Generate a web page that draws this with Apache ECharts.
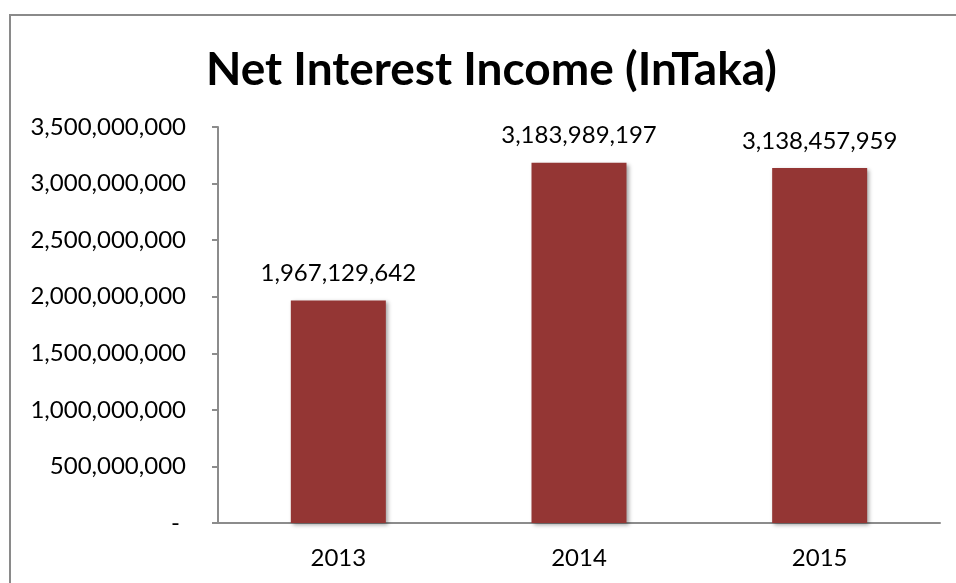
<!DOCTYPE html>
<html>
<head>
<meta charset="utf-8">
<script src="https://cdn.jsdelivr.net/npm/echarts@6/dist/echarts.min.js"></script>
<style>
  html, body { margin: 0; padding: 0; background: #ffffff; }
  #chart { width: 956px; height: 583px; }
</style>
</head>
<body>
<div id="chart"></div>
<script>
// Net interest income by year, in Taka
const chartTitle = 'Net Interest Income (InTaka)';
const years = ['2013', '2014', '2015'];
const netInterestIncome = [1967129642, 3183989197, 3138457959];
const yTickMax = 3500000000;
const yTickStep = 500000000;

const fontFamily = 'Lato, "Open Sans", sans-serif';

function thousands(v) {
  return Math.round(v).toString().replace(/\B(?=(\d{3})+(?!\d))/g, ',');
}

const chart = echarts.init(document.getElementById('chart'), null, { renderer: 'canvas' });

chart.setOption({
  backgroundColor: '#ffffff',
  animation: false,
  title: {
    text: chartTitle,
    left: 201,
    top: 42,
    textStyle: {
      fontFamily: fontFamily,
      fontWeight: 'bold',
      fontSize: 46,
      color: '#000000'
    }
  },
  graphic: [{
    type: 'rect',
    shape: { x: 10, y: 15, width: 980, height: 620 },
    style: { fill: 'none', stroke: '#8a8a8a', lineWidth: 2 },
    silent: true,
    z: 100
  }],
  grid: {
    left: 218,
    right: 16,
    top: 127,
    bottom: 60,
    containLabel: false
  },
  xAxis: {
    type: 'category',
    data: years,
    axisLine: { show: true, lineStyle: { color: '#8c8c8c', width: 2 } },
    axisTick: { show: false },
    axisLabel: {
      margin: 23,
      fontFamily: fontFamily,
      fontSize: 24,
      color: '#000000'
    },
    splitLine: { show: false }
  },
  yAxis: {
    type: 'value',
    min: 0,
    max: yTickMax,
    interval: yTickStep,
    axisLine: { show: true, lineStyle: { color: '#8c8c8c', width: 2 } },
    axisTick: { show: true, length: 6, lineStyle: { color: '#8c8c8c', width: 2 } },
    axisLabel: {
      margin: 32,
      fontFamily: fontFamily,
      fontSize: 24,
      color: '#000000',
      formatter: function (v) { return v === 0 ? '- ' : thousands(v); }
    },
    splitLine: { show: false }
  },
  series: [{
    type: 'bar',
    data: netInterestIncome,
    barWidth: 95,
    itemStyle: {
      color: '#943634',
      shadowColor: 'rgba(0,0,0,0.35)',
      shadowBlur: 4,
      shadowOffsetX: 2,
      shadowOffsetY: 2
    },
    label: {
      show: true,
      position: 'top',
      distance: 15,
      fontFamily: fontFamily,
      fontSize: 24,
      color: '#000000',
      formatter: function (p) { return thousands(p.value); }
    }
  }]
});
</script>
</body>
</html>
